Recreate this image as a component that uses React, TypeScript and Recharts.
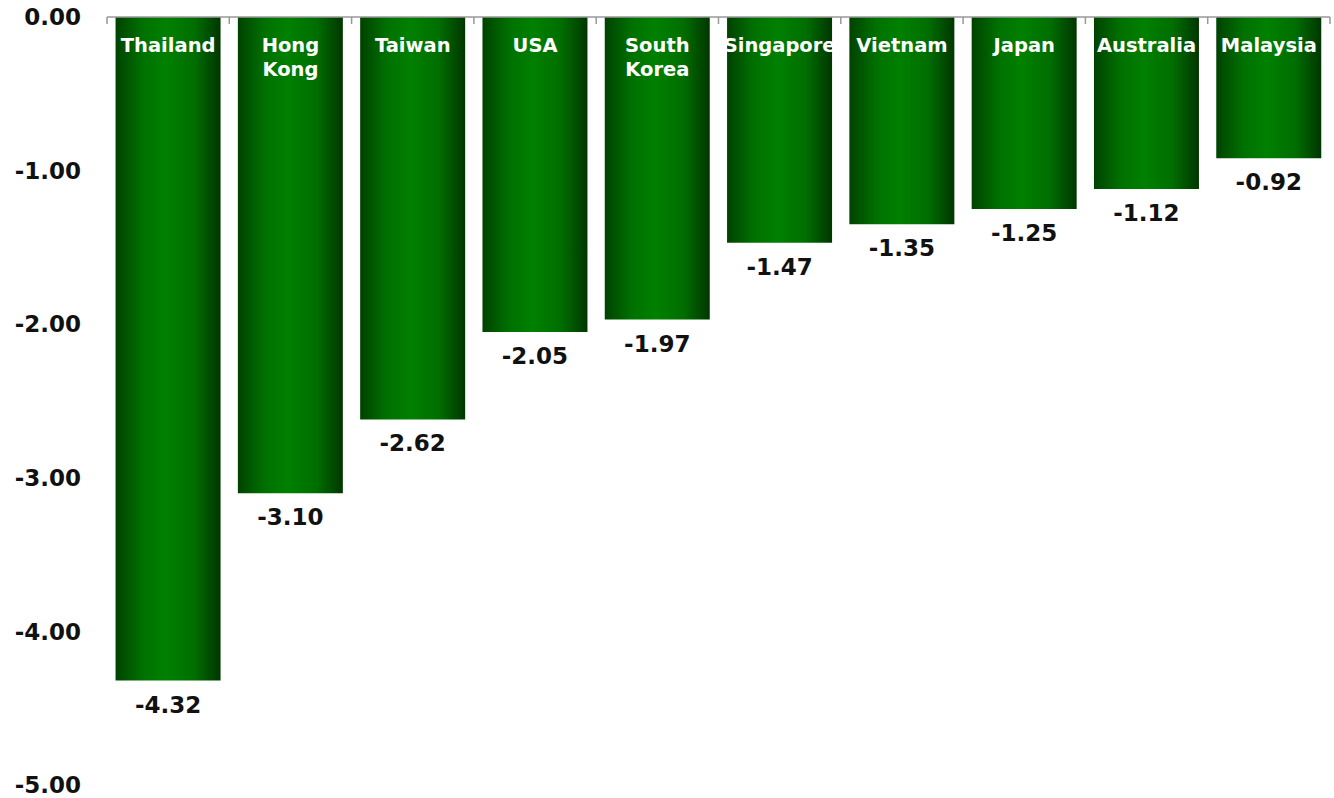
import React from "react";
import { BarChart, Bar, XAxis, YAxis, LabelList } from "recharts";

const countries = ["Thailand", "Hong Kong", "Taiwan", "USA", "South Korea", "Singapore", "Vietnam", "Japan", "Australia", "Malaysia"];
const values = [-4.32, -3.1, -2.62, -2.05, -1.97, -1.47, -1.35, -1.25, -1.12, -0.92];
const yTicks = [0, -1, -2, -3, -4, -5];

const data = countries.map((c, i) => ({ name: c, value: values[i] }));

const W = 1334;
const H = 798;
const LEFT = 107;
const RIGHT = 4;
const TOP = 16;
const BOTTOM = 13;
const FONT = "'DejaVu Sans', Verdana, sans-serif";

const half = (W - LEFT - RIGHT) / countries.length / 2;

const CatTick = (props: any) => {
  const { x, y, payload, index } = props;
  const label: string = payload.value;
  const lines = label.includes(" ") ? label.split(" ") : [label];
  return (
    <g>
      <line x1={x - half} y1={y} x2={x - half} y2={y + 7} stroke="#999" strokeWidth={1.5} />
      {index === countries.length - 1 && (
        <line x1={x + half} y1={y} x2={x + half} y2={y + 7} stroke="#999" strokeWidth={1.5} />
      )}
      <text x={x} y={y + 35} textAnchor="middle" fill="#fff" fontFamily={FONT} fontWeight="bold" fontSize={19.5}>
        {lines.map((l, i) => (
          <tspan key={i} x={x} dy={i === 0 ? 0 : 24}>
            {l}
          </tspan>
        ))}
      </text>
    </g>
  );
};

const ValueLabel = (props: any) => {
  const { x, y, width, height, value } = props;
  const bottom = Math.max(y, y + height);
  return (
    <text x={x + width / 2} y={bottom + 32} textAnchor="middle" fill="#111" fontFamily={FONT} fontWeight="bold" fontSize={23}>
      {Number(value).toFixed(2)}
    </text>
  );
};

export default function App() {
  return (
    <div style={{ position: "absolute", left: 0, top: 0, width: W, height: H, background: "#fff" }}>
      <BarChart width={W} height={H} data={data} margin={{ top: TOP, right: RIGHT, bottom: BOTTOM, left: 0 }} barCategoryGap="7%">
        <defs>
          <linearGradient id="barGrad" x1="0" y1="0" x2="1" y2="0">
            <stop offset="0%" stopColor="#004200" />
            <stop offset="25%" stopColor="#007000" />
            <stop offset="48%" stopColor="#008000" />
            <stop offset="75%" stopColor="#006e00" />
            <stop offset="100%" stopColor="#003600" />
          </linearGradient>
        </defs>
        <XAxis
          dataKey="name"
          orientation="top"
          height={1}
          interval={0}
          tickSize={0}
          tickMargin={0}
          axisLine={{ stroke: "#999", strokeWidth: 1.5 }}
          tickLine={false}
          tick={<CatTick />}
        />
        <YAxis
          type="number"
          domain={[-5, 0]}
          ticks={yTicks}
          width={LEFT}
          axisLine={false}
          tickLine={false}
          tickSize={0}
          tickMargin={26}
          tickFormatter={(v: number) => v.toFixed(2)}
          tick={{ fill: "#111", fontFamily: FONT, fontWeight: "bold", fontSize: 23 }}
        />
        <Bar dataKey="value" fill="url(#barGrad)" isAnimationActive={false}>
          <LabelList dataKey="value" content={<ValueLabel />} />
        </Bar>
      </BarChart>
    </div>
  );
}
